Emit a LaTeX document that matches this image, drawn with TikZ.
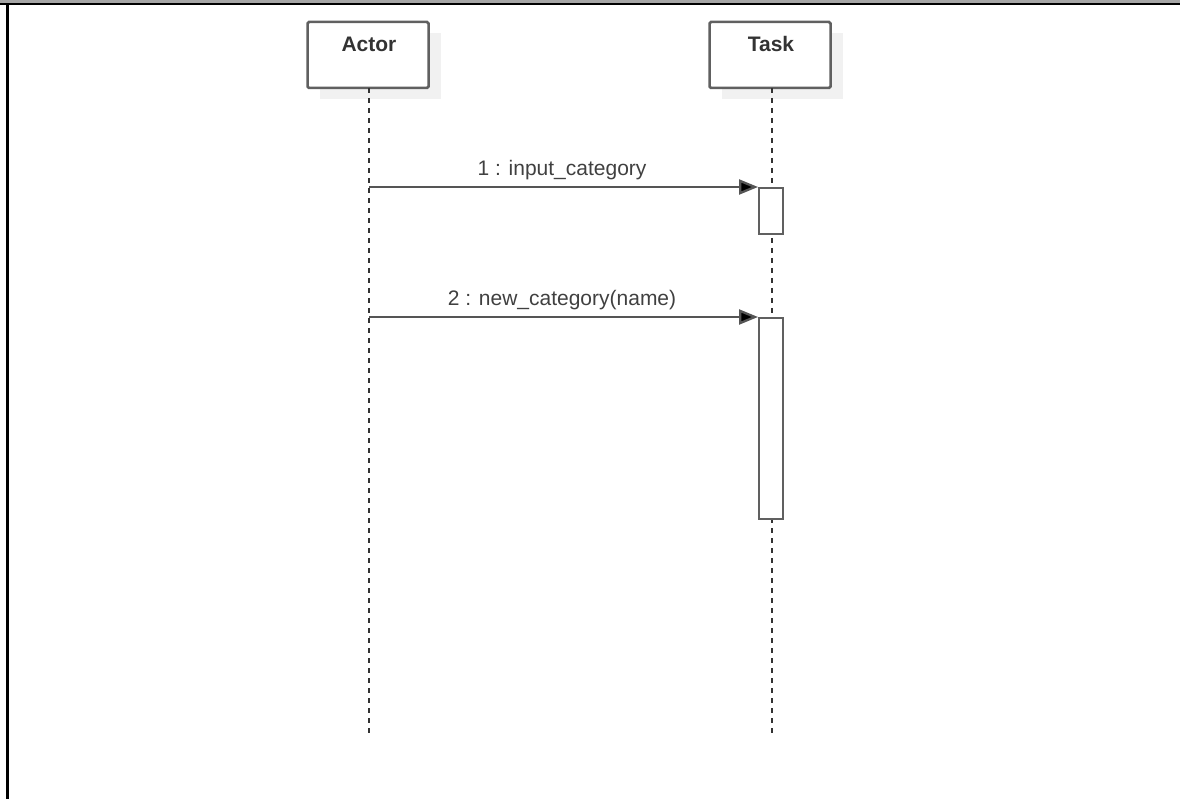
\documentclass[tikz,border=0pt]{standalone}
\usepackage{fontspec}
\setmainfont{Liberation Sans}
\usetikzlibrary{arrows.meta}
\definecolor{linegray}{HTML}{555555}
\definecolor{boxgray}{HTML}{606060}
\definecolor{shadowgray}{HTML}{F1F1F1}
\definecolor{txtgray}{HTML}{404040}
\tikzset{
  objbox/.style={draw=boxgray, line width=2.5pt, fill=white, rounded corners=1.5pt, minimum width=121pt, minimum height=66pt, inner sep=0pt},
  objshadow/.style={fill=shadowgray, draw=none, minimum width=121pt, minimum height=66pt, inner sep=0pt},
  objlabel/.style={font=\fontsize{21}{25}\selectfont\bfseries, text=black!80},
  lifeline/.style={draw=black!80, line width=1.4pt, dash pattern=on 5pt off 5pt},
  actbox/.style={draw=boxgray, line width=2.3pt, fill=white, minimum width=24pt, inner sep=0pt},
  msg/.style={draw=linegray, line width=2.3pt, -{Triangle[length=19pt,width=15pt,fill=black]}},
  msglabel/.style={font=\fontsize{21}{25}\selectfont, text=txtgray}
}
\begin{document}
\begin{tikzpicture}[x=1pt,y=-1pt]
\useasboundingbox (0,0) rectangle (1180,799);
% frame
\fill[black!35] (0,0) rectangle (1180,3);
\fill[black] (0,3) rectangle (1180,5.5);
\fill[black] (6,3) rectangle (8.5,799);
% shadows
\node[objshadow] (ashadow) at (380,66) {};
\node[objshadow] (tshadow) at (782,66) {};
% object boxes
\node[objbox] (actor) at (368,55) {};
\node[objlabel] (actorlbl) at (369,44) {Actor};
\node[objbox] (task) at (770,55) {};
\node[objlabel] (tasklbl) at (771,44) {Task};
% lifeline ends
\coordinate (aend) at (369,735);
\coordinate (tend) at (772,735);
\draw[lifeline] (369,88) -- (aend);
\draw[lifeline] (772,88) -- (tend);
% activation boxes
\node[actbox, minimum height=46pt, anchor=north west] (act1) at (758,187) {};
\node[actbox, minimum height=201pt, anchor=north west] (act2) at (758,317) {};
% messages
\coordinate (m1s) at (369,187);
\coordinate (m2s) at (369,317);
\draw[msg] (m1s) -- (act1.north west);
\draw[msg] (m2s) -- (act2.north west);
\node[msglabel] (l1) at (562,170) {1 : input\_category};
\node[msglabel] (l2) at (562,300) {2 : new\_category(name)};
\end{tikzpicture}
\end{document}
